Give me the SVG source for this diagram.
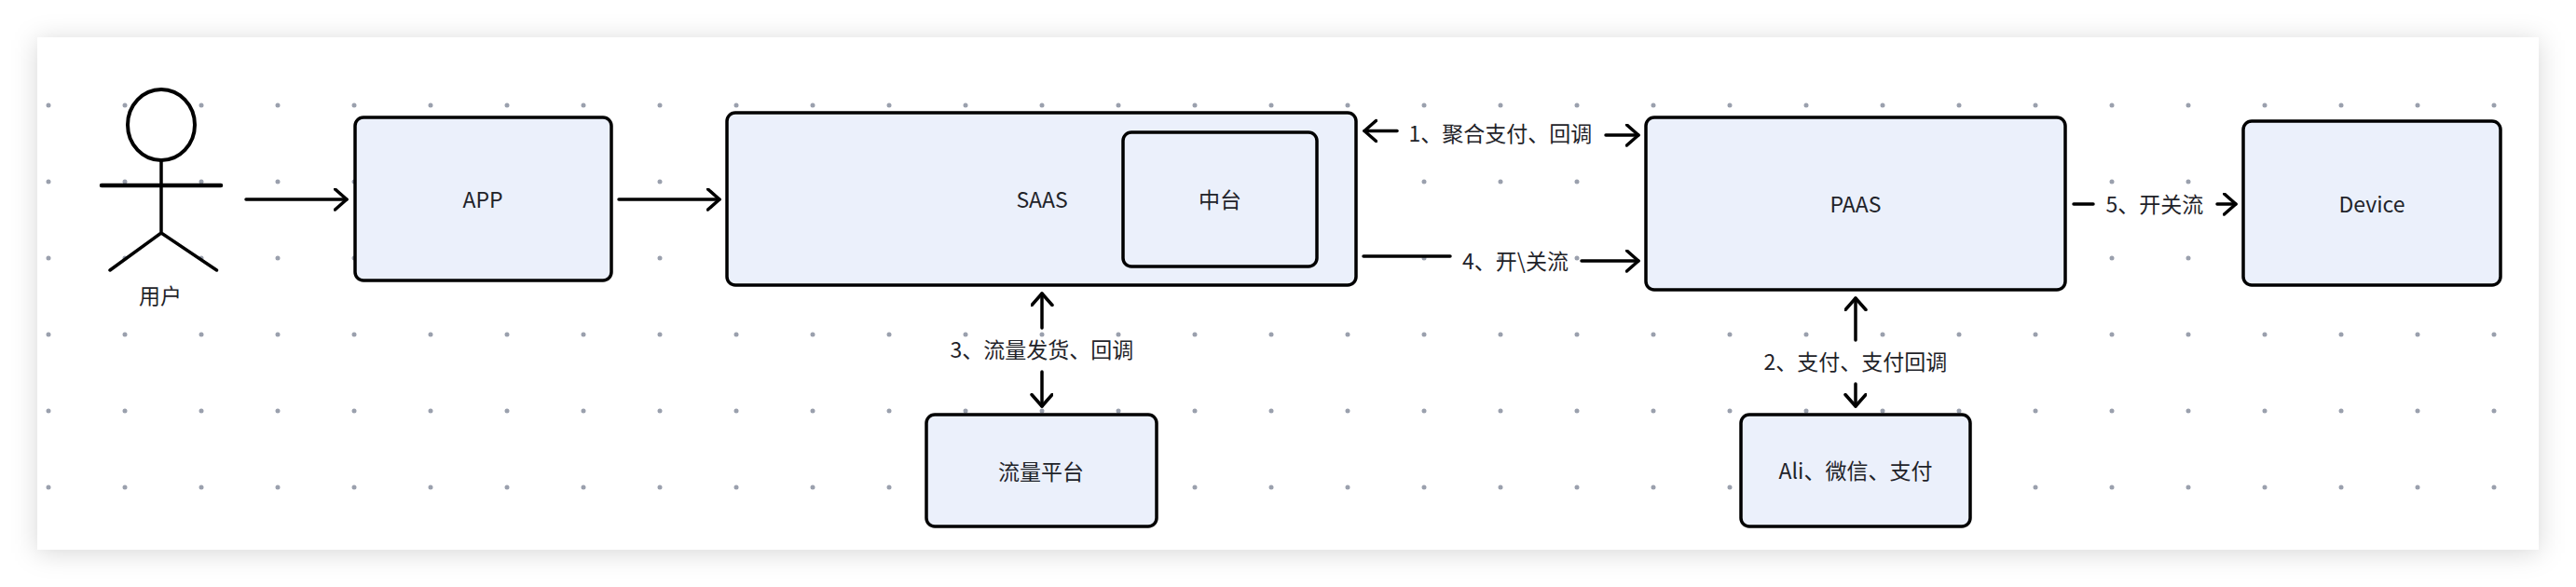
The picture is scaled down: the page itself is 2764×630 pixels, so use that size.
<svg xmlns="http://www.w3.org/2000/svg" width="2764" height="630" viewBox="0 0 2764 630">
<style>
text{font-family:"Noto Sans CJK SC","Noto Sans",sans-serif;font-size:23px;fill:#1f2329;text-anchor:middle}
.box{fill:#ebf0fb;stroke:#000;stroke-width:3.5}
.ln{fill:none;stroke:#000;stroke-width:3.500;stroke-linecap:round;stroke-linejoin:round}
</style>
<defs>
<filter id="sh" x="-5%" y="-20%" width="110%" height="140%"><feGaussianBlur stdDeviation="14"/></filter>
<marker id="ah" markerUnits="userSpaceOnUse" markerWidth="20" markerHeight="30" refX="14" refY="12" orient="auto"><path d="M1.500 1L14 12L1.500 23" fill="none" stroke="#000" stroke-width="3.500" stroke-linecap="round" stroke-linejoin="round"/></marker>
<pattern id="dots" x="52" y="113" width="82" height="82" patternUnits="userSpaceOnUse"><circle cx="0" cy="0" r="2.500" fill="#9aa0ad"/><circle cx="82" cy="0" r="2.500" fill="#9aa0ad"/><circle cx="0" cy="82" r="2.500" fill="#9aa0ad"/><circle cx="82" cy="82" r="2.500" fill="#9aa0ad"/></pattern>
</defs>
<rect width="2764" height="630" fill="#fff"/>
<rect x="40" y="43" width="2684" height="550" fill="#000" fill-opacity=".16" filter="url(#sh)"/>
<rect x="40" y="40" width="2684" height="550" fill="#fff"/>
<rect x="48" y="109" width="2634" height="418" fill="url(#dots)"/>
<g id="connectors">
<path class="ln" d="M264 214H372" marker-end="url(#ah)"/>
<path class="ln" d="M664 214H772" marker-end="url(#ah)"/>
<path class="ln" d="M1499 140.500H1464" marker-end="url(#ah)"/>
<path class="ln" d="M1723 145H1758" marker-end="url(#ah)"/>
<path class="ln" d="M1463 275H1556"/>
<path class="ln" d="M1697 280H1758" marker-end="url(#ah)"/>
<path class="ln" d="M1118 352V315" marker-end="url(#ah)"/>
<path class="ln" d="M1118 399V436" marker-end="url(#ah)"/>
<path class="ln" d="M1991 365V320" marker-end="url(#ah)"/>
<path class="ln" d="M1991 412V436" marker-end="url(#ah)"/>
<path class="ln" d="M2225 219H2246"/>
<path class="ln" d="M2379 219H2399" marker-end="url(#ah)"/>
</g>
<g id="actor-user">
<ellipse cx="173" cy="134" rx="36" ry="38" fill="#fff" stroke="#000" stroke-width="4"/>
<path class="ln" d="M173 172V250M173 250L118 290M173 250L232.500 290"/>
<path class="ln" style="stroke-width:4.500" d="M109 199H237"/>
<text x="172" y="326">用户</text>
</g>
<g id="node-app"><rect class="box" x="381" y="126" width="275" height="175" rx="9"/><text x="518" y="223">APP</text></g>
<g id="node-saas"><rect class="box" x="780" y="121" width="675" height="185" rx="9"/><text x="1118" y="223">SAAS</text></g>
<g id="node-zhongtai"><rect class="box" x="1205" y="142" width="208" height="144" rx="9"/><text x="1309" y="223">中台</text></g>
<g id="node-paas"><rect class="box" x="1766" y="126" width="450" height="185" rx="9"/><text x="1991" y="228">PAAS</text></g>
<g id="node-device"><rect class="box" x="2407" y="130" width="276" height="176" rx="9"/><text x="2545" y="228">Device</text></g>
<g id="node-traffic"><rect class="box" x="994" y="445" width="247" height="120" rx="9"/><text x="1117" y="515">流量平台</text></g>
<g id="node-pay"><rect class="box" x="1868" y="445" width="246" height="120" rx="9"/><text x="1991" y="514">Ali、微信、支付</text></g>
<g id="labels">
<text x="1610" y="152">1、聚合支付、回调</text>
<text x="1626" y="289">4、开\关流</text>
<text x="2312" y="228">5、开关流</text>
<text x="1118" y="384">3、流量发货、回调</text>
<text x="1991" y="397">2、支付、支付回调</text>
</g>
</svg>
